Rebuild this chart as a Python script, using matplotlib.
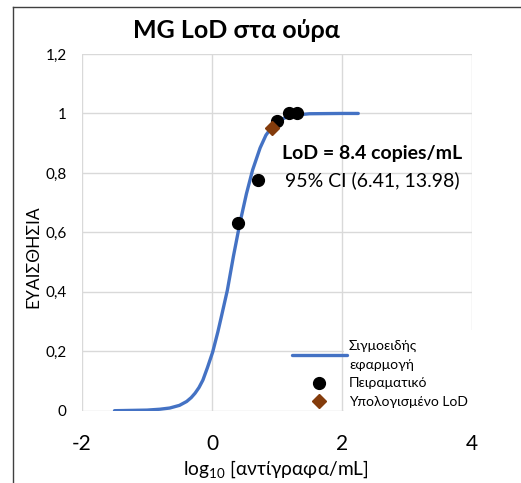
import numpy as np
import matplotlib
matplotlib.use("Agg")
import matplotlib.pyplot as plt
from matplotlib.lines import Line2D
from matplotlib.patches import Rectangle

plt.rcParams['font.family'] = ['Lato', 'Noto Sans', 'DejaVu Sans']

# sigmoid fit (log10 copies/mL -> sensitivity)
fit_x = [-1.5, -1.0, -0.8, -0.65, -0.5, -0.39, -0.32, -0.26, -0.2, -0.14, -0.07,
         0.01, 0.09, 0.15, 0.236, 0.33, 0.43, 0.53, 0.625, 0.74, 0.83, 0.9,
         0.97, 1.03, 1.10, 1.17, 1.25, 1.5, 2.0, 2.25]
fit_y = [0.0, 0.002, 0.005, 0.009, 0.018, 0.031, 0.044, 0.059, 0.078, 0.103, 0.145,
         0.197, 0.265, 0.322, 0.405, 0.52, 0.632, 0.73, 0.81, 0.884, 0.927, 0.948,
         0.962, 0.973, 0.983, 0.99, 0.994, 0.999, 1.0, 1.0]

# experimental points
exp_x = [0.40, 0.70, 1.00, 1.18, 1.30]
exp_y = [0.63, 0.775, 0.975, 1.0, 1.0]

# calculated LoD
lod_x = [0.92]
lod_y = [0.95]

xticks = [-2, 0, 2, 4]
yticks = [0, 0.2, 0.4, 0.6, 0.8, 1.0, 1.2]
ytick_labels = ['0', '0,2', '0,4', '0,6', '0,8', '1', '1,2']

W, H = 521, 483
fig = plt.figure(figsize=(W / 100, H / 100), dpi=100)
ax = fig.add_axes([82 / W, 1 - 410.7 / H, 390 / W, 356.7 / H])

ax.plot(fit_x, fit_y, color='#4472C4', lw=2.4, solid_capstyle='round',
        solid_joinstyle='round', zorder=3, label='Σιγμοειδής\nεφαρμογή')
ax.plot(exp_x, exp_y, 'o', color='black', ms=8.5, ls='none', zorder=4,
        label='Πειραματικό')
ax.plot(lod_x, lod_y, 'D', color='#843C0C', ms=7, ls='none', zorder=5,
        label='Υπολογισμένο LoD')

ax.set_xlim(-2, 4)
ax.set_ylim(0, 1.2)
ax.set_xticks(xticks)
ax.set_xticklabels([str(t) for t in xticks], fontsize=15)
ax.set_yticks(yticks)
ax.set_yticklabels(ytick_labels, fontsize=11)
ax.tick_params(length=0)
ax.tick_params(axis='x', pad=17)
ax.tick_params(axis='y', pad=11)
ax.grid(True, color='#D9D9D9', lw=1)
ax.set_axisbelow(True)
for s in ax.spines.values():
    s.set_visible(False)

# legend area (white box covering grid)
ax.add_patch(Rectangle((0.672, 0.0), 0.328, 0.226, transform=ax.transAxes,
                       facecolor='white', edgecolor='none', zorder=1))
leg = ax.legend(loc='lower left', bbox_to_anchor=(0.538, 0.0085), frameon=False,
                fontsize=10, handlelength=3.96, handletextpad=0.15,
                borderpad=0, borderaxespad=0, labelspacing=0.45)
for t in leg.get_texts():
    t.set_linespacing(1.75)

ax.text(0.745, 0.722, 'LoD = 8.4 copies/mL', transform=ax.transAxes,
        ha='center', va='center', fontsize=14, fontweight='bold')
ax.text(0.745, 0.647, '95% CI (6.41, 13.98)', transform=ax.transAxes,
        ha='center', va='center', fontsize=14)

fig.text(236 / W, 1 - 30 / H, 'MG LoD στα ούρα', ha='center', va='center',
         fontsize=18, fontweight='bold')
fig.text(276 / W, 1 - 469 / H, r'log$_{\mathregular{10}}$ [αντίγραφα/mL]',
         ha='center', va='center', fontsize=13.8)
fig.text(33 / W, 1 - 257 / H, 'ΕΥΑΙΣΘΗΣΙΑ', ha='center', va='center',
         rotation=90, fontsize=12.5)

# chart area border (only top and left are inside the crop)
fig.add_artist(Line2D([13 / W, 13 / W], [0, 1 - 7 / H], color='#404040', lw=1))
fig.add_artist(Line2D([13 / W, 1], [1 - 7 / H, 1 - 7 / H], color='#404040', lw=1))

fig.savefig('out.png', dpi=100)
